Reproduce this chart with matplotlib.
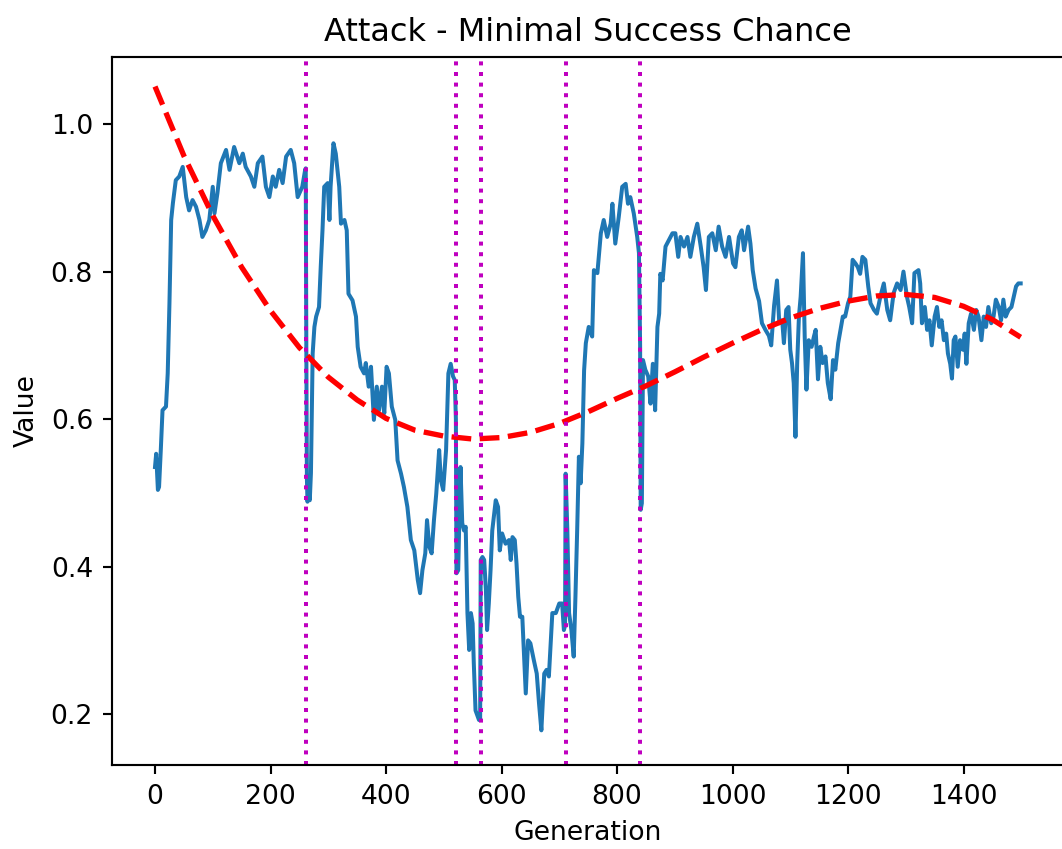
import numpy as np
import matplotlib
matplotlib.use("Agg")
import matplotlib.pyplot as plt

# blue trace (generation, value)
gens = [0, 2, 5, 7, 10, 13, 19, 22, 25, 28, 31, 36, 42, 48, 54, 59, 65, 71, 77, 82,
        88, 94, 100, 103, 108, 114, 123, 129, 137, 146, 152, 157, 166, 172, 178, 186, 192, 198, 204, 209,
        215, 221, 227, 235, 241, 247, 255, 260,
        261, 262, 263, 264, 266, 268, 270, 273, 276, 279, 284, 287, 290, 293, 299, 302, 304, 309, 313, 319,
        322, 328, 332, 335, 342, 348, 351, 356, 362, 365, 370, 374, 379, 384, 388, 393, 397, 401, 405, 410,
        416, 420, 426, 431, 437, 443, 449, 455, 459, 463, 468, 471, 475, 479, 483, 487, 492, 495, 499, 504,
        508, 512, 516, 519, 521, 522, 525, 529, 532, 535, 538, 541, 544, 547, 550, 552, 555, 561, 563, 564,
        567, 570, 573, 575, 578, 581, 584, 590, 594, 597, 601, 607, 613, 616, 619, 623, 626, 629, 632, 636,
        642, 646, 650, 656, 661, 665, 669, 674, 678, 682, 688, 694, 700, 705, 708, 710, 711, 714, 717, 721,
        725, 728, 731, 734, 737, 740, 743, 746, 751, 757, 760, 766, 772, 777, 783, 789, 792, 797, 803, 809,
        815, 819, 823, 829, 835, 838, 840, 841, 843, 845, 849, 854, 858, 862, 866, 870, 873, 875, 879, 884,
        890, 896, 901, 906, 910, 916, 922, 927, 933, 939, 945, 950, 954, 959, 965, 971, 976, 982, 988, 994,
        1001, 1005, 1011, 1016, 1020, 1027, 1031, 1035, 1040, 1046, 1051, 1057, 1063, 1067, 1072, 1077, 1081, 1086, 1089, 1093,
        1097, 1100, 1103, 1106, 1109, 1112, 1115, 1118, 1122, 1125, 1128, 1132, 1137, 1141, 1144, 1148, 1152, 1156, 1161, 1165,
        1170, 1174, 1178, 1183, 1187, 1191, 1195, 1200, 1204, 1208, 1213, 1217, 1221, 1225, 1230, 1235, 1239, 1245, 1250, 1256,
        1262, 1268, 1273, 1279, 1285, 1291, 1296, 1302, 1306, 1311, 1315, 1322, 1325, 1328, 1333, 1337, 1341, 1345, 1350, 1354,
        1358, 1362, 1366, 1370, 1373, 1377, 1380, 1383, 1386, 1390, 1394, 1399, 1402, 1405, 1409, 1413, 1418, 1422, 1426, 1431,
        1435, 1439, 1443, 1448, 1452, 1456, 1461, 1465, 1469, 1473, 1478, 1483, 1487, 1491, 1495, 1499]

values = [0.535, 0.553, 0.504, 0.508, 0.558, 0.612, 0.617, 0.662, 0.757, 0.870, 0.893, 0.924, 0.929, 0.942, 0.901, 0.883, 0.897, 0.888, 0.870, 0.847,
          0.856, 0.870, 0.915, 0.879, 0.906, 0.947, 0.965, 0.938, 0.969, 0.947, 0.960, 0.942, 0.929, 0.915, 0.947, 0.956, 0.915, 0.901, 0.929, 0.915,
          0.938, 0.920, 0.956, 0.965, 0.947, 0.901, 0.915, 0.938,
          0.940, 0.700, 0.520, 0.488, 0.500, 0.490, 0.527, 0.689, 0.725, 0.739, 0.752, 0.807, 0.856, 0.915, 0.920, 0.870, 0.915, 0.974, 0.960, 0.915,
          0.865, 0.870, 0.856, 0.770, 0.761, 0.739, 0.698, 0.671, 0.662, 0.676, 0.644, 0.671, 0.599, 0.644, 0.612, 0.644, 0.608, 0.671, 0.662, 0.617,
          0.599, 0.544, 0.526, 0.508, 0.481, 0.436, 0.422, 0.382, 0.364, 0.395, 0.418, 0.463, 0.427, 0.418, 0.463, 0.499, 0.558, 0.517, 0.504, 0.558,
          0.662, 0.675, 0.658, 0.653, 0.600, 0.391, 0.395, 0.535, 0.459, 0.449, 0.454, 0.337, 0.287, 0.337, 0.323, 0.269, 0.205, 0.192, 0.192, 0.409,
          0.413, 0.409, 0.368, 0.314, 0.350, 0.395, 0.449, 0.490, 0.481, 0.422, 0.445, 0.431, 0.436, 0.409, 0.440, 0.436, 0.404, 0.359, 0.332, 0.332,
          0.228, 0.300, 0.296, 0.273, 0.255, 0.214, 0.178, 0.255, 0.260, 0.251, 0.337, 0.337, 0.350, 0.350, 0.314, 0.320, 0.526, 0.449, 0.337, 0.314,
          0.278, 0.359, 0.449, 0.549, 0.513, 0.567, 0.666, 0.703, 0.725, 0.712, 0.802, 0.798, 0.852, 0.870, 0.847, 0.865, 0.892, 0.838, 0.874, 0.915,
          0.919, 0.892, 0.901, 0.879, 0.847, 0.825, 0.700, 0.477, 0.486, 0.680, 0.667, 0.658, 0.621, 0.675, 0.612, 0.725, 0.743, 0.797, 0.788, 0.834,
          0.843, 0.852, 0.852, 0.820, 0.847, 0.834, 0.847, 0.820, 0.847, 0.865, 0.834, 0.806, 0.775, 0.847, 0.852, 0.829, 0.861, 0.834, 0.820, 0.847,
          0.811, 0.806, 0.847, 0.856, 0.829, 0.861, 0.838, 0.802, 0.777, 0.760, 0.730, 0.721, 0.713, 0.700, 0.754, 0.788, 0.730, 0.734, 0.703, 0.748,
          0.752, 0.694, 0.676, 0.649, 0.576, 0.676, 0.739, 0.766, 0.825, 0.712, 0.640, 0.707, 0.698, 0.712, 0.721, 0.654, 0.698, 0.676, 0.685, 0.649,
          0.627, 0.680, 0.667, 0.703, 0.721, 0.739, 0.739, 0.757, 0.766, 0.816, 0.811, 0.806, 0.797, 0.820, 0.816, 0.780, 0.757, 0.748, 0.743, 0.766,
          0.784, 0.748, 0.734, 0.771, 0.784, 0.775, 0.800, 0.766, 0.752, 0.730, 0.798, 0.802, 0.784, 0.730, 0.752, 0.721, 0.734, 0.700, 0.739, 0.752,
          0.725, 0.734, 0.707, 0.716, 0.689, 0.675, 0.655, 0.707, 0.712, 0.671, 0.707, 0.694, 0.716, 0.675, 0.730, 0.743, 0.721, 0.748, 0.739, 0.707,
          0.739, 0.725, 0.752, 0.730, 0.739, 0.762, 0.752, 0.734, 0.762, 0.739, 0.748, 0.752, 0.766, 0.780, 0.784, 0.784]

# red dashed trend, read every 50 generations
trend_gens = [0, 50, 100, 150, 200, 250, 300, 350, 400, 450, 500, 550, 600, 650, 700, 750,
              800, 850, 900, 950, 1000, 1050, 1100, 1150, 1200, 1250, 1300, 1350, 1400, 1450, 1499]
trend_vals = [1.051, 0.957, 0.876, 0.806, 0.747, 0.697, 0.657, 0.626, 0.601, 0.585, 0.577, 0.573, 0.575, 0.582, 0.594, 0.610,
              0.628, 0.645, 0.664, 0.684, 0.703, 0.721, 0.737, 0.750, 0.760, 0.767, 0.769, 0.765, 0.753, 0.735, 0.711]

# vertical event markers
events = [262, 521, 564, 711, 840]

W, H, DPI = 1062, 849, 192
fig = plt.figure(figsize=(W / DPI, H / DPI), dpi=DPI)
ax = fig.add_axes([111.7 / W, 84 / H, (1064 - 111.7) / W, 708 / H])

ax.plot(gens, values)
ax.plot(trend_gens, trend_vals, 'r--', lw=2)
for g in events:
    ax.axvline(g, color='m', linestyle=':')

ax.set_xlim(-75, 1574)
ax.set_ylim(0.131, 1.091)
ax.set_title('Attack - Minimal Success Chance')
ax.set_xlabel('Generation')
ax.set_ylabel('Value')

fig.savefig('out.png', dpi=DPI)
